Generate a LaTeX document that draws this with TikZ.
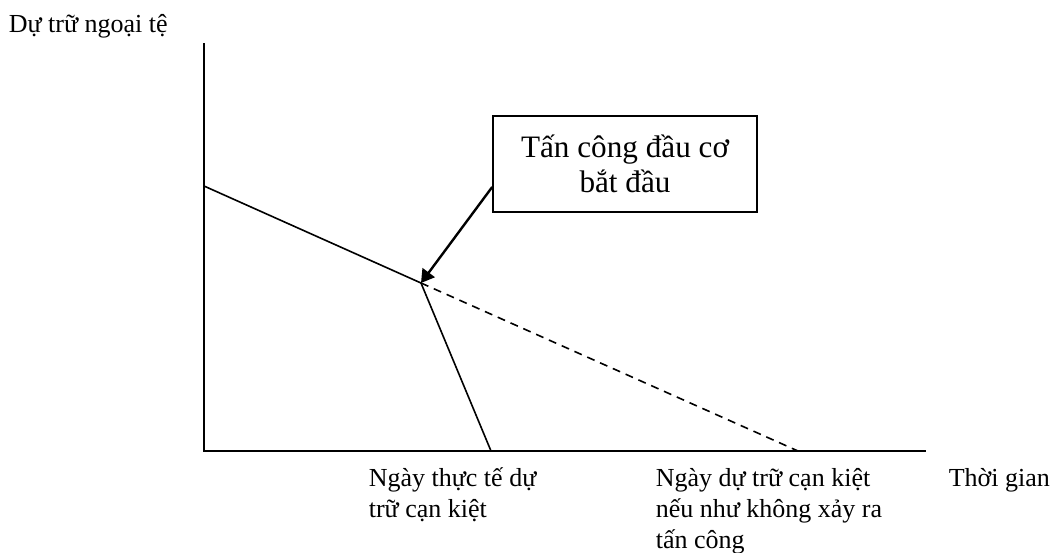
\documentclass[tikz,border=0pt]{standalone}
\usepackage{fontspec}
\setmainfont{Liberation Serif}
\usetikzlibrary{positioning,arrows.meta}

\begin{document}
\begin{tikzpicture}[x=0.5pt,y=-0.5pt,>={Triangle[length=6.5pt,width=7.5pt]},line width=0.8pt,label node/.style={font=\fontsize{13}{15.5}\selectfont,align=left,anchor=base west,inner sep=0pt},box node/.style={draw,font=\fontsize{15.6}{17.5}\selectfont,align=center,minimum width=132pt,minimum height=48pt}]
                \useasboundingbox (0,0) rectangle (1050,552);
                \coordinate (origin) at (204,451);
                \coordinate (ytop) at (204,43);
                \coordinate (xend) at (926,451);
                \coordinate (start) at (204,186);
                \coordinate (kink) at (421,283);
                \coordinate (actual) at (491,451);
                \coordinate (planned) at (798,451);

                \node[box node] (box) at (625,164) {Tấn công đầu cơ\\bắt đầu};

                % base west sits on the last line
                \node[label node] (ylabel) at (8,32) {Dự trữ ngoại tệ};
                \node[label node] (actual label) at (368,517) {Ngày thực tế dự\\trữ cạn kiệt};
                \node[label node] (planned label) at (655,548) {Ngày dự trữ cạn kiệt\\nếu như không xảy ra\\tấn công};
                \node[label node] (xlabel) at (948,486) {Thời gian};

                \draw[line width=1pt] (ytop) -- (origin) -- (xend);
                \draw
                (start) -- (kink) -- (actual)
                ;
                \draw[dashed,dash pattern=on 4pt off 3pt] (kink) -- (planned);
                \draw[->,line width=1.2pt] ([yshift=-11.5pt]box.west) -- (kink);
            \end{tikzpicture}
\end{document}
